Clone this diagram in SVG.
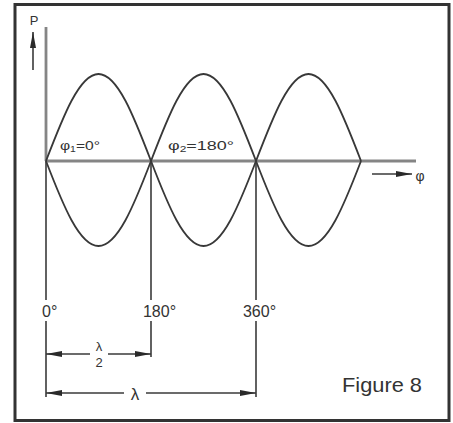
<svg xmlns="http://www.w3.org/2000/svg" width="453" height="423" viewBox="0 0 453 423">
<defs>
<style>
.ln{stroke:#3a3a3a;stroke-width:1.6;fill:none}
.ax{stroke:#858585;stroke-width:2.8;fill:none}
.wave{stroke:#383838;stroke-width:1.8;fill:none}
.t{font-family:"Liberation Sans",Arial,sans-serif;fill:#333}
</style>
<marker id="ah" viewBox="0 0 16 6" refX="16" refY="3" markerWidth="16" markerHeight="6" markerUnits="userSpaceOnUse" orient="auto-start-reverse">
<path d="M0,0 L16,3 L0,6 z" fill="#2a2a2a"/>
</marker>
</defs>
<rect x="0" y="0" width="453" height="423" fill="#fff"/>
<rect id="frame" x="15" y="4.5" width="434" height="416" fill="none" stroke="#333" stroke-width="3"/>

<g id="axes">
<line class="ax" x1="46" y1="27" x2="46" y2="161"/>
<line class="ax" x1="46" y1="161" x2="416" y2="161"/>
</g>

<g id="waves">
<path class="wave" d="M46,161 c17.12,-44.57 33.5,-87 52.5,-87 c19,0 35.38,42.43 52.5,87 c17.12,44.57 33.5,85 52.5,85 c19,0 35.38,-40.43 52.5,-85 c17.12,-44.57 33.5,-87 52.5,-87 c19,0 35.38,42.43 52.5,87"/>
<path class="wave" d="M46,161 c17.12,44.57 33.5,85 52.5,85 c19,0 35.38,-40.43 52.5,-85 c17.12,-44.57 33.5,-87 52.5,-87 c19,0 35.38,42.43 52.5,87 c17.12,44.57 33.5,85 52.5,85 c19,0 35.38,-40.43 52.5,-85"/>
</g>

<g id="connectors">
<line class="ln" x1="46" y1="161" x2="46" y2="300"/>
<line class="ln" x1="46" y1="321" x2="46" y2="397"/>
<line class="ln" x1="151" y1="161" x2="151" y2="300"/>
<line class="ln" x1="151" y1="321" x2="151" y2="357"/>
<line class="ln" x1="256" y1="161" x2="256" y2="300"/>
<line class="ln" x1="256" y1="321" x2="256" y2="397"/>
<line class="ln" x1="33" y1="70" x2="33" y2="32" stroke-width="2" marker-end="url(#ah)"/>
<line class="ln" x1="372" y1="174" x2="412" y2="174" stroke-width="2" marker-end="url(#ah)"/>
<line class="ln" x1="90" y1="354" x2="46" y2="354" marker-end="url(#ah)"/>
<line class="ln" x1="108" y1="354" x2="151" y2="354" marker-end="url(#ah)"/>
<line class="ln" x1="124" y1="393" x2="46" y2="393" marker-end="url(#ah)"/>
<line class="ln" x1="146" y1="393" x2="256" y2="393" marker-end="url(#ah)"/>
</g>

<g id="labels">
<text class="t" x="34" y="25" font-size="13" text-anchor="middle">P</text>
<text class="t" x="420" y="181" font-size="14" text-anchor="middle">φ</text>
<text class="t" x="60" y="150" font-size="13.5" textLength="40" lengthAdjust="spacingAndGlyphs">φ<tspan font-size="9" dy="2">1</tspan><tspan dy="-2">=0°</tspan></text>
<text class="t" x="168" y="150" font-size="13.5" textLength="66" lengthAdjust="spacingAndGlyphs">φ<tspan font-size="9" dy="2">2</tspan><tspan dy="-2">=180°</tspan></text>
<text class="t" x="42" y="317" font-size="16">0°</text>
<text class="t" x="159.5" y="317" font-size="16" text-anchor="middle">180°</text>
<text class="t" x="259.5" y="317" font-size="16" text-anchor="middle">360°</text>
<text class="t" x="99" y="351" font-size="13" text-anchor="middle">λ</text>
<text class="t" x="99" y="367" font-size="13" text-anchor="middle">2</text>
<text class="t" x="135" y="400" font-size="17" text-anchor="middle">λ</text>
<text class="t" x="342" y="392" font-size="20.5" textLength="80" lengthAdjust="spacingAndGlyphs">Figure 8</text>
</g>
</svg>
